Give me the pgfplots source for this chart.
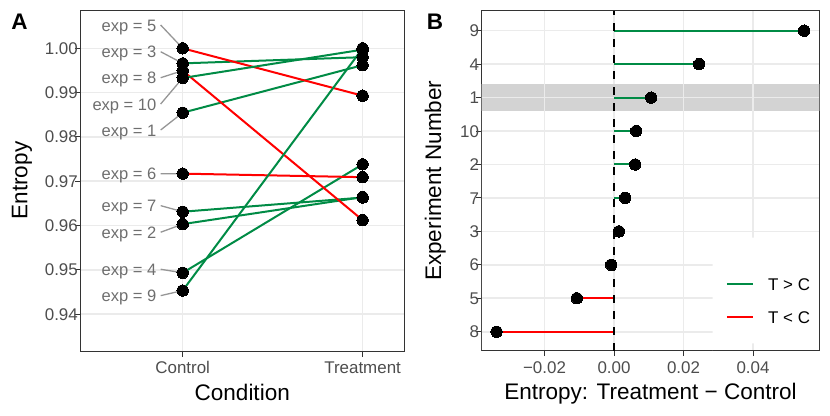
\documentclass[border=0pt]{standalone}
\usepackage{fontspec}
\setmainfont{Liberation Sans}
\usepackage{pgfplots}
\pgfplotsset{compat=1.18}
\definecolor{tg}{RGB}{0,139,69}
\definecolor{tr}{RGB}{255,0,0}
\definecolor{gridc}{RGB}{235,235,235}
\definecolor{g20}{RGB}{51,51,51}
\definecolor{g30}{RGB}{77,77,77}
\definecolor{labc}{RGB}{110,110,110}
\definecolor{segc}{RGB}{150,150,150}
\definecolor{bandc}{RGB}{211,211,211}
\newcommand\tickfont{\fontsize{17}{20}\selectfont}
\newcommand\titlefont{\fontsize{22.6}{26}\selectfont}
\pgfplotsset{
  common/.style={
    scale only axis,
    grid=major,
    major grid style={gridc, line width=1.6bp},
    axis line style={g20, line width=1bp},
    tick style={g20, line width=1bp},
    tick align=outside,
    major tick length=5.5bp,
    tick pos=left,
    scaled x ticks=false, scaled y ticks=false,
    ticklabel style={font=\tickfont, text=g30, inner sep=0bp, text height=12.2bp, text depth=0bp},
    yticklabel style={xshift=3bp},
    xticklabel style={yshift=-5bp},
    label style={font=\titlefont, inner sep=0bp, text height=16.2bp, text depth=0bp},
  },
  seg/.style={line width=2bp},
  pts/.style={only marks, mark=*, mark size=5.7bp, mark options={fill=black, draw=black, line width=0bp}},
  labseg/.style={segc, line width=1.3bp},
}
\tikzset{lab/.style={anchor=east, inner sep=0bp, text height=12.2bp, text depth=0bp, font=\fontsize{16.6}{19}\selectfont, text=labc}}
\begin{document}
\begin{tikzpicture}[x=1bp,y=1bp]
\path[use as bounding box] (0,0) rectangle (830,415);
% ---------------- Panel A ----------------
\begin{axis}[common,
  at={(80.5bp,64bp)}, anchor=south west,
  width=323.5bp, height=341bp,
  xmin=0.432, xmax=2.23, ymin=0.93165, ymax=1.00865,
  xtick={1,2}, xticklabels={Control,Treatment},
  ytick={0.94,0.95,0.96,0.97,0.98,0.99,1.00},
  yticklabels={0.94,0.95,0.96,0.97,0.98,0.99,1.00},
  xlabel={Condition}, ylabel={Entropy},
  xlabel style={at={(axis description cs:0.5,-0.1202)}, anchor=center},
  ylabel style={at={(axis description cs:-0.189,0.5)}, anchor=center},
]
% label connectors
\addplot[labseg] coordinates {(0.8776,1.00526) (1,1.0000)};
\addplot[labseg] coordinates {(0.8776,0.99923) (1,0.9966)};
\addplot[labseg] coordinates {(0.8776,0.99336) (1,0.99496)};
\addplot[labseg] coordinates {(0.8776,0.98743) (1,0.9933)};
\addplot[labseg] coordinates {(0.8776,0.98156) (1,0.98546)};
\addplot[labseg] coordinates {(0.8776,0.97169) (1,0.9717)};
\addplot[labseg] coordinates {(0.8776,0.96447) (1,0.9631)};
\addplot[labseg] coordinates {(0.8776,0.95847) (1,0.9603)};
\addplot[labseg] coordinates {(0.8776,0.95011) (1,0.9493)};
\addplot[labseg] coordinates {(0.8776,0.94415) (1,0.9453)};
% paired lines
\addplot[seg, tg] coordinates {(1,0.98546) (2,0.9962)};
\addplot[seg, tg] coordinates {(1,0.9603) (2,0.9664)};
\addplot[seg, tg] coordinates {(1,0.9966) (2,0.9980)};
\addplot[seg, tg] coordinates {(1,0.9493) (2,0.9738)};
\addplot[seg, tr] coordinates {(1,1.0000) (2,0.9893)};
\addplot[seg, tr] coordinates {(1,0.9717) (2,0.9709)};
\addplot[seg, tg] coordinates {(1,0.9631) (2,0.9663)};
\addplot[seg, tr] coordinates {(1,0.99496) (2,0.9612)};
\addplot[seg, tg] coordinates {(1,0.9453) (2,1.0000)};
\addplot[seg, tg] coordinates {(1,0.9933) (2,0.9997)};
% points
\addplot[pts] coordinates {
 (1,0.98546) (1,0.9603) (1,0.9966) (1,0.9493) (1,1.0000)
 (1,0.9717) (1,0.9631) (1,0.99496) (1,0.9453) (1,0.9933)
 (2,0.9962) (2,0.9664) (2,0.9980) (2,0.9738) (2,0.9893)
 (2,0.9709) (2,0.9663) (2,0.9612) (2,1.0000) (2,0.9997)};
% labels
\node[lab] at (axis cs:0.855,1.00526) {exp = 5};
\node[lab] at (axis cs:0.855,0.99923) {exp = 3};
\node[lab] at (axis cs:0.855,0.99336) {exp = 8};
\node[lab] at (axis cs:0.855,0.98743) {exp = 10};
\node[lab] at (axis cs:0.855,0.98156) {exp = 1};
\node[lab] at (axis cs:0.855,0.97169) {exp = 6};
\node[lab] at (axis cs:0.855,0.96447) {exp = 7};
\node[lab] at (axis cs:0.855,0.95847) {exp = 2};
\node[lab] at (axis cs:0.855,0.95011) {exp = 4};
\node[lab] at (axis cs:0.855,0.94415) {exp = 9};
\end{axis}
% ---------------- Panel B ----------------
\begin{axis}[common,
  at={(481.7bp,64.3bp)}, anchor=south west,
  width=337.6bp, height=340bp,
  xmin=-0.03807, xmax=0.05908, ymin=0.432, ymax=10.598,
  xtick={-0.02,0,0.02,0.04}, xticklabels={−0.02,0.00,0.02,0.04},
  ytick={1,2,3,4,5,6,7,8,9,10},
  yticklabels={8,5,6,3,7,2,10,1,4,9},
  xlabel={Entropy: Treatment − Control}, ylabel={Experiment Number},
  xlabel style={at={(axis description cs:0.5,-0.1203)}, anchor=center},
  ylabel style={at={(axis description cs:-0.144,0.5)}, anchor=center},
  legend style={draw=none, fill=none, at={(0.7227,0.2132)}, anchor=north west,
    inner sep=0bp, row sep=20.8bp, column sep=14.3bp,
    nodes={inner sep=0bp, text height=12.2bp, text depth=0bp, font=\tickfont}},
  legend cell align=left,
  legend image code/.code={\draw[#1, line width=2bp] (0bp,0.6bp) -- (26bp,0.6bp);},
]
\addlegendimage{tg}
\addlegendentry{T > C}
\addlegendimage{tr}
\addlegendentry{T < C}
% highlight band for exp 1
\addplot[draw=none, fill=bandc, forget plot] coordinates {(-0.03807,7.6) (0.05908,7.6) (0.05908,8.4) (-0.03807,8.4)} \closedcycle;
% legend background
\addplot[draw=none, fill=white, forget plot] coordinates {(0.0284,0.653) (0.05893,0.653) (0.05893,3.811) (0.0284,3.811)} \closedcycle;
% faint grid lines showing through the band
\addplot[gridc, line width=1.6bp, forget plot] coordinates {(-0.02,7.6) (-0.02,8.4)};
\addplot[gridc, line width=1.6bp, forget plot] coordinates {(0.02,7.6) (0.02,8.4)};
\addplot[gridc, line width=1.6bp, forget plot] coordinates {(0.04,7.6) (0.04,8.4)};
\addplot[gridc, line width=1.6bp, forget plot] coordinates {(-0.03807,8) (0.05908,8)};
% segments from zero
\addplot[seg, tg] coordinates {(0,10) (0.0547,10)};
\addplot[seg, tg] coordinates {(0,9) (0.0245,9)};
\addplot[seg, tg] coordinates {(0,8) (0.0107,8)};
\addplot[seg, tg] coordinates {(0,7) (0.0064,7)};
\addplot[seg, tg] coordinates {(0,6) (0.0061,6)};
\addplot[seg, tg] coordinates {(0,5) (0.0032,5)};
\addplot[seg, tg] coordinates {(0,4) (0.0014,4)};
\addplot[seg, tr] coordinates {(0,3) (-0.0008,3)};
\addplot[seg, tr] coordinates {(0,2) (-0.0107,2)};
\addplot[seg, tr] coordinates {(0,1) (-0.0338,1)};
% zero reference line
\addplot[black, line width=2bp, dash pattern=on 8bp off 8bp] coordinates {(0,0.432) (0,10.598)};
% points
\addplot[pts] coordinates {
 (0.0547,10) (0.0245,9) (0.0107,8) (0.0064,7) (0.0061,6)
 (0.0032,5) (0.0014,4) (-0.0008,3) (-0.0107,2) (-0.0338,1)};
\end{axis}
% panel tags
\node[font=\fontsize{22.6}{26}\selectfont\bfseries, inner sep=0bp, text height=16.2bp, text depth=0bp, anchor=center] at (19.5,393.5) {A};
\node[font=\fontsize{22.6}{26}\selectfont\bfseries, inner sep=0bp, text height=16.2bp, text depth=0bp, anchor=center] at (435,393.5) {B};
\end{tikzpicture}
\end{document}
